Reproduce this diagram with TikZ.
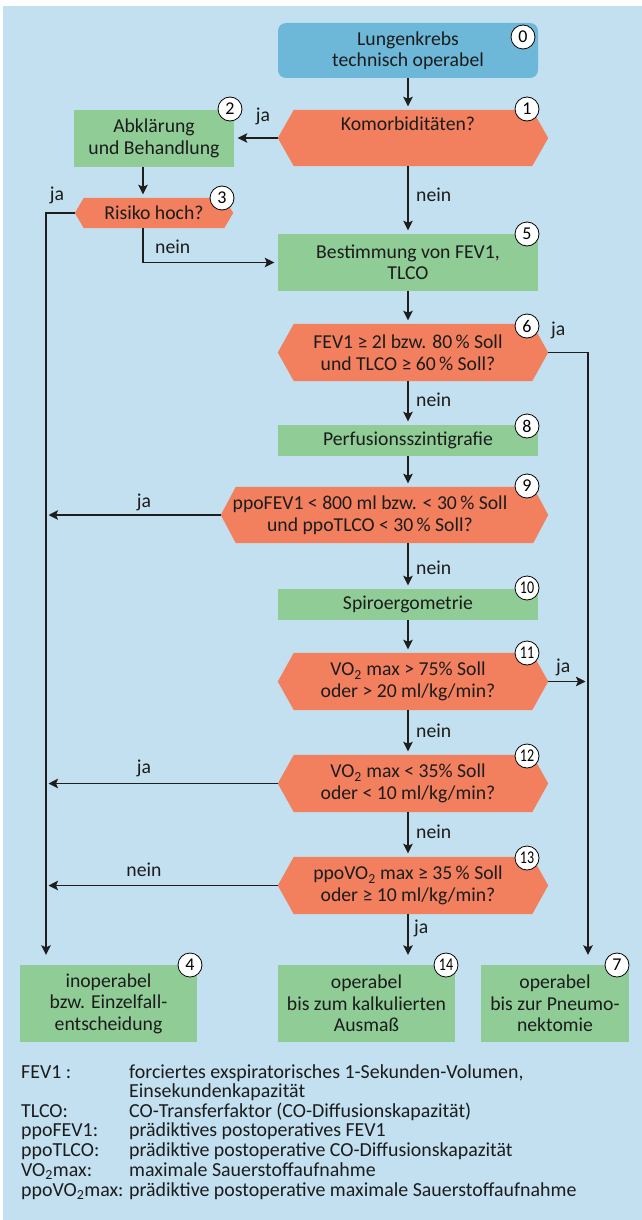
\documentclass[tikz,border=0pt]{standalone}
\usepackage{fontspec}
\setmainfont{Carlito}
\usepackage{graphicx}
\usetikzlibrary{arrows.meta,calc}
\pgfdeclarelayer{bg}
\pgfsetlayers{bg,main}
\definecolor{bgblue}{HTML}{C2E0EF}
\definecolor{startblue}{HTML}{6DB8D8}
\definecolor{hexcol}{HTML}{F27F5E}
\definecolor{boxgreen}{HTML}{8FCC96}
\definecolor{txtcol}{HTML}{1C1C1C}
\definecolor{linecol}{HTML}{1E1E1E}
\tikzset{
  txt/.style={text=txtcol, font=\fontsize{19.7}{21.5}\selectfont, align=center, inner sep=0pt},
  startbox/.style={txt, fill=startblue, rounded corners=8pt},
  greenbox/.style={txt, fill=boxgreen},
  hexnode/.style={txt},
  badge/.style={circle, draw=black, fill=white, line width=0.8pt, minimum size=24pt, inner sep=0pt,
    text=black, font=\fontsize{18}{18}\selectfont},
  lab/.style={text=txtcol, font=\fontsize{19.7}{21.5}\selectfont, inner sep=0pt},
  leg/.style={text=txtcol, font=\fontsize{19.9}{19.7}\selectfont, inner sep=0pt, anchor=base west},
  conn/.style={line width=1.9pt, draw=linecol},
  arr/.style={conn, -{Stealth[length=9.5pt,width=9.5pt,inset=2pt]}, shorten >=3.5pt},
  arrlong/.style={arr, shorten >=10pt},
  arrside/.style={arr, shorten >=2.5pt}
}
% name, tip length, right extension
\newcommand\drawhex[3]{%
  \begin{pgfonlayer}{bg}
    \fill[hexcol] (#1.west) -- ([xshift=#2pt]#1.north west) -- ([xshift={(#3)-(#2)}]#1.north east)
      -- ([xshift=#3pt]#1.east) -- ([xshift={(#3)-(#2)}]#1.south east) -- ([xshift=#2pt]#1.south west) -- cycle;
  \end{pgfonlayer}}
\begin{document}
\begin{tikzpicture}[x=1pt,y=-1pt]
\useasboundingbox (0,0) rectangle (642,1220);
\begin{pgfonlayer}{bg}
  \fill[bgblue] (3,6) rectangle (642,1220);
\end{pgfonlayer}

\coordinate (colx) at (408,0);
\coordinate (lx) at (46,0);
\coordinate (rx) at (588,0);
\coordinate (bx) at (143,0);

% nodes
\node[startbox, minimum width=260pt, minimum height=55pt] (n0) at (408,50.5) {Lungenkrebs\\technisch operabel};
\node[hexnode, minimum width=260pt, minimum height=56pt] (n1) at (408,138) {Komorbiditäten?\\\strut};
\drawhex{n1}{16}{10}
\node[greenbox, minimum width=160pt, minimum height=57pt] (n2) at (154,138.5) {Abklärung\\und Behandlung};
\node[hexnode, minimum width=158pt, minimum height=30pt] (n3) at (154,213) {Risiko hoch?};
\drawhex{n3}{9}{0}
\node[greenbox, minimum width=260pt, minimum height=57pt] (n5) at (408,262.5) {Bestimmung von FEV1,\\TLCO};
\node[hexnode, minimum width=260pt, minimum height=57pt] (n6) at (408,352.5) {FEV1 ≥ 2l bzw. 80\,\% Soll\\und TLCO ≥ 60\,\% Soll?};
\drawhex{n6}{16}{10}
\node[greenbox, minimum width=260pt, minimum height=31pt] (n8) at (408,440.5) {Perfusionsszintigrafie};
\node[hexnode, minimum width=298pt, minimum height=56pt] (n9) at (370,515) {ppoFEV1 < 800 ml bzw. < 30\,\% Soll\\und ppoTLCO < 30\,\% Soll?};
\drawhex{n9}{15}{29}
\node[greenbox, minimum width=260pt, minimum height=31pt] (n10) at (408,604.5) {Spiroergometrie};
\node[hexnode, minimum width=260pt, minimum height=57pt] (n11) at (408,681.5) {VO\textsubscript{2} max > 75\% Soll\\oder > 20 ml/kg/min?};
\drawhex{n11}{16}{10}
\node[hexnode, minimum width=260pt, minimum height=57pt] (n12) at (408,783.5) {VO\textsubscript{2} max < 35\% Soll\\oder < 10 ml/kg/min?};
\drawhex{n12}{16}{10}
\node[hexnode, minimum width=260pt, minimum height=57pt] (n13) at (408,885.5) {ppoVO\textsubscript{2} max ≥ 35\,\% Soll\\oder ≥ 10 ml/kg/min?};
\drawhex{n13}{16}{10}
\node[greenbox, minimum width=177pt, minimum height=77pt] (n4) at (108.5,1003.5) {inoperabel\\bzw. Einzelfall-\\entscheidung};
\node[greenbox, minimum width=177pt, minimum height=77pt] (n14) at (366.5,1003.5) {operabel\\bis zum kalkulierten\\Ausmaß};
\node[greenbox, minimum width=148pt, minimum height=77pt] (n7) at (555,1003.5) {operabel\\bis zur Pneumo-\\nektomie};

% badges
\node[badge] (b0) at (523,37) {0};
\node[badge] (b1) at (527,109) {1};
\node[badge] (b2) at (230,109) {2};
\node[badge] (b3) at (222,198) {3};
\node[badge] (b5) at (527,234) {5};
\node[badge] (b6) at (527,326) {6};
\node[badge] (b8) at (527,426) {8};
\node[badge] (b9) at (527,486) {9};
\node[badge] (b10) at (527,588) {\scalebox{0.78}[1]{10}};
\node[badge] (b11) at (527,653) {\scalebox{0.78}[1]{11}};
\node[badge] (b12) at (527,756) {\scalebox{0.78}[1]{12}};
\node[badge] (b13) at (527,858) {\scalebox{0.78}[1]{13}};
\node[badge] (b4) at (190,965) {4};
\node[badge] (b14) at (446,965) {\scalebox{0.78}[1]{14}};
\node[badge] (b7) at (617,965) {7};

% connectors
\draw[arr] (n0.south) -- (n0.south |- n1.north);
\draw[arr] (n1.west) -- (n1.west -| n2.east);
\draw[arr] (n1.south) -- (n5.north);
\draw[arr] (n2.south -| bx) -- (n3.north -| bx);
\draw[arrlong] (n3.west) -- (n3.west -| lx) -- (lx |- n4.north);
\draw[arr] (n3.south -| bx) -- (n5.west -| bx) -- (n5.west);
\draw[arr] (n5.south) -- (n6.north);
\draw[arrlong] ([xshift=10pt]n6.east) -- (rx |- n6.east) -- (rx |- n7.north);
\draw[arr] (n6.south) -- (n8.north);
\draw[arr] (n8.south) -- (n8.south |- n9.north);
\draw[arrside] (n9.west) -- (n9.west -| lx);
\draw[arr] (n9.south -| colx) -- (n10.north);
\draw[arr] (n10.south) -- (n11.north);
\draw[arrside] ([xshift=10pt]n11.east) -- (n11.east -| rx);
\draw[arr] (n11.south) -- (n12.north);
\draw[arrside] (n12.west) -- (n12.west -| lx);
\draw[arr] (n12.south) -- (n13.north);
\draw[arrside] (n13.west) -- (n13.west -| lx);
\draw[arrlong] (n13.south) -- (n13.south |- n14.north);

% labels
\node[lab, anchor=base] (l1) at (263,122) {ja};
\node[lab, anchor=base west] (l2) at (416,201) {nein};
\node[lab, anchor=base] (l3) at (57,200) {ja};
\node[lab, anchor=base west] (l4) at (155,253) {nein};
\node[lab, anchor=base west] (l5) at (551,335) {ja};
\node[lab, anchor=base west] (l6) at (416,406) {nein};
\node[lab, anchor=base] (l7) at (144,507) {ja};
\node[lab, anchor=base west] (l8) at (416,574) {nein};
\node[lab, anchor=base west] (l9) at (556,672) {ja};
\node[lab, anchor=base west] (l10) at (416,737) {nein};
\node[lab, anchor=base] (l11) at (144,773) {ja};
\node[lab, anchor=base west] (l12) at (416,838) {nein};
\node[lab, anchor=base] (l13) at (144,876) {nein};
\node[lab, anchor=base west] (l14) at (414,933) {ja};

% legend
\node[leg] (k1) at (21,1078) {FEV1 :};
\node[leg] (d1) at (129,1078) {forciertes exspiratorisches 1-Sekunden-Volumen,};
\node[leg] (d1b) at (129,1097) {Einsekundenkapazität};
\node[leg] (k2) at (21,1117) {TLCO:};
\node[leg] (d2) at (129,1117) {CO-Transferfaktor (CO-Diffusionskapazität)};
\node[leg] (k3) at (21,1136) {ppoFEV1:};
\node[leg] (d3) at (129,1136) {prädiktives postoperatives FEV1};
\node[leg] (k4) at (21,1156) {ppoTLCO:};
\node[leg] (d4) at (129,1156) {prädiktive postoperative CO-Diffusionskapazität};
\node[leg] (k5) at (21,1176) {VO\textsubscript{2}max:};
\node[leg] (d5) at (129,1176) {maximale Sauerstoffaufnahme};
\node[leg] (k6) at (21,1196) {ppoVO\textsubscript{2}max:};
\node[leg] (d6) at (129,1196) {prädiktive postoperative maximale Sauerstoffaufnahme};
\end{tikzpicture}
\end{document}
